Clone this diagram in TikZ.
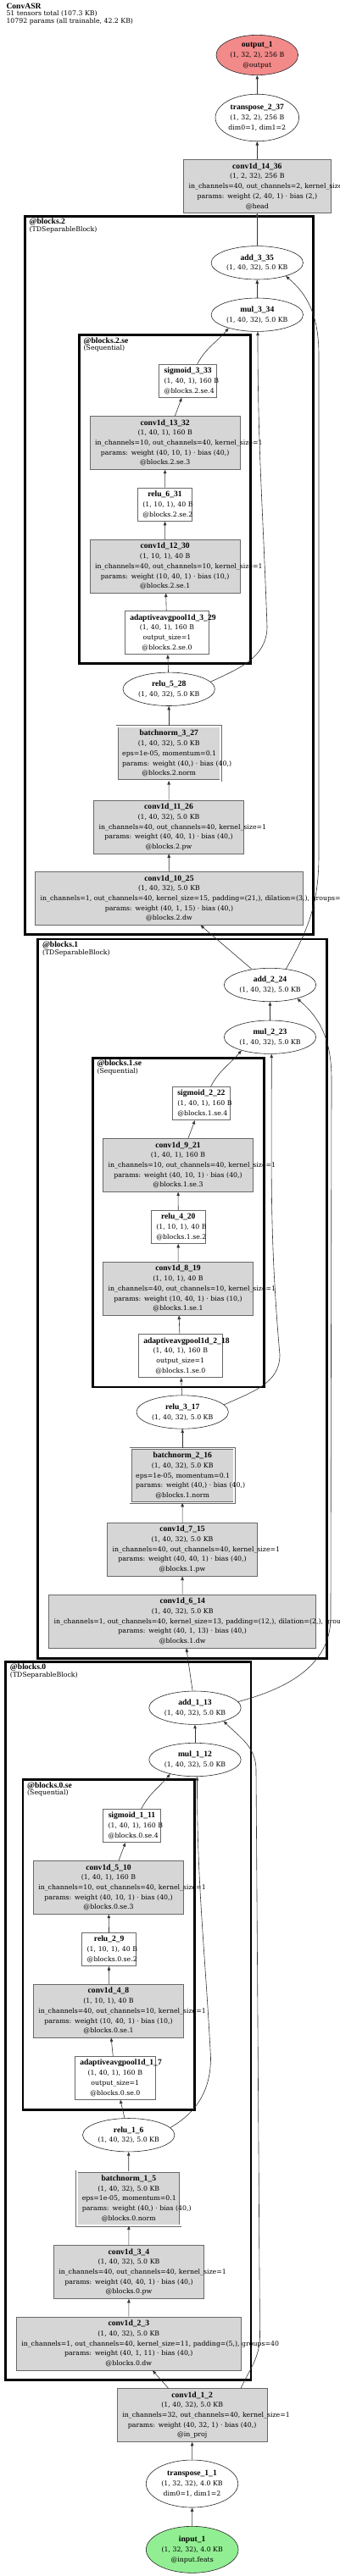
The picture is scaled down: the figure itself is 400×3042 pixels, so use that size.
\documentclass[tikz,border=0pt]{standalone}
\usepackage{fontspec}
\setmainfont{DejaVu Serif}
\newfontfamily\hdfont{Liberation Serif}
\usetikzlibrary{positioning,arrows.meta,shapes.geometric}
\definecolor{modgray}{RGB}{214,214,214}
\definecolor{framegray}{RGB}{105,105,105}
\definecolor{outred}{RGB}{242,138,138}
\definecolor{ingreen}{RGB}{146,238,146}
\newcommand{\nodefont}{\fontsize{7.8}{11.7}\selectfont}
\newcommand{\lblfont}{\fontsize{7.8}{8.7}\selectfont}
\newcommand{\hd}[1]{\mbox{\hdfont\bfseries\fontsize{9.6}{11.7}\selectfont #1}}
\newcommand{\rw}[1]{\mbox{#1}}
\tikzset{
  >={Triangle[length=4.5pt,width=3.5pt]},
  modbox/.style={draw=framegray, fill=modgray, line width=0.6pt, align=center,
    inner xsep=6pt, inner ysep=0pt, minimum height=63pt, text width=#1},
  modbox/.default=165pt,
  normbox/.style={modbox=110pt, minimum height=64pt, double=white, double distance=1.6pt},
  fnbox/.style={draw=framegray, fill=white, line width=0.6pt, align=center,
    inner xsep=6pt, inner ysep=0pt, minimum height=39.5pt, text width=#1},
  fnbox/.default=52pt,
  opnode/.style={ellipse, draw=black!85, fill=white, line width=0.6pt, align=center,
    inner sep=0pt, minimum width=108.4pt, minimum height=39.4pt},
  edge/.style={->, draw=black!80, line width=0.6pt},
  cluster/.style={draw=black, line width=2.8pt, inner sep=0pt, outer sep=0pt},
  clabel/.style={align=left, inner sep=0pt, font=\lblfont},
}

\begin{document}
\begin{tikzpicture}[x=1pt, y=1pt, font=\nodefont]
  \useasboundingbox (0,0) rectangle (400,-3042);
  \node[clabel, anchor=north west] (title) at (7.3,-3.5) {\hd{ConvASR}\\51 tensors total (107.3 KB)\\10792 params (all trainable, 42.2 KB)};

  % module frames
  \node[cluster, minimum width=339.7pt, minimum height=848.2pt] (blk2) at (199.35,-679.4) {};
  \node[cluster, minimum width=201.8pt, minimum height=388.1pt] (blk2se) at (194.4,-589.75) {};
  \node[cluster, minimum width=340.7pt, minimum height=849.3pt] (blk1) at (215.15,-1533.65) {};
  \node[cluster, minimum width=201.9pt, minimum height=388.7pt] (blk1se) at (210.25,-1443.65) {};
  \node[cluster, minimum width=289.2pt, minimum height=848.4pt] (blk0) at (151.4,-2386.5) {};
  \node[cluster, minimum width=202.2pt, minimum height=389.5pt] (blk0se) at (128.1,-2296.55) {};
  \node[clabel, below right=2.5pt and 5pt of blk2.north west] (blk2lbl) {\hd{@blocks.2}\\(TDSeparableBlock)};
  \node[clabel, below right=2.5pt and 5pt of blk2se.north west] (blk2selbl) {\hd{@blocks.2.se}\\(Sequential)};
  \node[clabel, below right=2.5pt and 5pt of blk1.north west] (blk1lbl) {\hd{@blocks.1}\\(TDSeparableBlock)};
  \node[clabel, below right=2.5pt and 5pt of blk1se.north west] (blk1selbl) {\hd{@blocks.1.se}\\(Sequential)};
  \node[clabel, below right=2.5pt and 5pt of blk0.north west] (blk0lbl) {\hd{@blocks.0}\\(TDSeparableBlock)};
  \node[clabel, below right=2.5pt and 5pt of blk0se.north west] (blk0selbl) {\hd{@blocks.0.se}\\(Sequential)};

  % head
  \node[opnode, fill=outred, minimum width=96.6pt, minimum height=47.3pt] (out) at (303.3,-65) {\hd{output\_1}\\(1, 32, 2), 256 B\\@output};
  \node[opnode, minimum width=98.6pt, minimum height=55.6pt] (tr2) at (303.3,-139) {\hd{transpose\_2\_37}\\(1, 32, 2), 256 B\\dim0=1, dim1=2};
  \node[modbox=161.3pt] (c14) at (303.3,-220) {\hd{conv1d\_14\_36}\\\rw{(1, 2, 32), 256 B}\\\rw{in\_channels=40, out\_channels=2, kernel\_size=1}\\\rw{params: weight (2, 40, 1) · bias (2,)}\\\rw{@head}};

  % blocks.2
  \node[opnode] (add3) at (303.3,-310.3) {\hd{add\_3\_35}\\(1, 40, 32), 5.0 KB};
  \node[opnode] (mul3) at (303.3,-371.7) {\hd{mul\_3\_34}\\(1, 40, 32), 5.0 KB};
  \node[fnbox=56pt] (sig3) at (221.7,-449.7) {\hd{sigmoid\_3\_33}\\\rw{(1, 40, 1), 160 B}\\\rw{@blocks.2.se.4}};
  \node[modbox=165.3pt] (c13) at (194.7,-522.9) {\hd{conv1d\_13\_32}\\\rw{(1, 40, 1), 160 B}\\\rw{in\_channels=10, out\_channels=40, kernel\_size=1}\\\rw{params: weight (40, 10, 1) · bias (40,)}\\\rw{@blocks.2.se.3}};
  \node[fnbox=52.4pt] (relu6) at (194.5,-595.7) {\hd{relu\_6\_31}\\\rw{(1, 10, 1), 40 B}\\\rw{@blocks.2.se.2}};
  \node[modbox=165.3pt] (c12) at (194.7,-668.7) {\hd{conv1d\_12\_30}\\\rw{(1, 10, 1), 40 B}\\\rw{in\_channels=40, out\_channels=10, kernel\_size=1}\\\rw{params: weight (10, 40, 1) · bias (10,)}\\\rw{@blocks.2.se.1}};
  \node[fnbox=87.4pt, minimum height=51.7pt] (pool3) at (197,-746.9) {\hd{adaptiveavgpool1d\_3\_29}\\\rw{(1, 40, 1), 160 B}\\\rw{output\_size=1}\\\rw{@blocks.2.se.0}};
  \node[opnode] (relu5) at (199.2,-813.8) {\hd{relu\_5\_28}\\(1, 40, 32), 5.0 KB};
  \node[normbox] (bn3) at (199.2,-889.7) {\hd{batchnorm\_3\_27}\\\rw{(1, 40, 32), 5.0 KB}\\\rw{eps=1e-05, momentum=0.1}\\\rw{params: weight (40,) · bias (40,)}\\\rw{@blocks.2.norm}};
  \node[modbox=164.6pt] (c11) at (199,-976.5) {\hd{conv1d\_11\_26}\\\rw{(1, 40, 32), 5.0 KB}\\\rw{in\_channels=40, out\_channels=40, kernel\_size=1}\\\rw{params: weight (40, 40, 1) · bias (40,)}\\\rw{@blocks.2.pw}};
  \node[modbox=303.6pt] (c10) at (199.5,-1060.8) {\hd{conv1d\_10\_25}\\\rw{(1, 40, 32), 5.0 KB}\\\rw{in\_channels=1, out\_channels=40, kernel\_size=15, padding=(21,), dilation=(3,), groups=40}\\\rw{params: weight (40, 1, 15) · bias (40,)}\\\rw{@blocks.2.dw}};

  % blocks.1
  \node[opnode] (add2) at (318.5,-1163) {\hd{add\_2\_24}\\(1, 40, 32), 5.0 KB};
  \node[opnode] (mul2) at (318.5,-1224.7) {\hd{mul\_2\_23}\\(1, 40, 32), 5.0 KB};
  \node[fnbox=56.4pt] (sig2) at (237.5,-1303) {\hd{sigmoid\_2\_22}\\\rw{(1, 40, 1), 160 B}\\\rw{@blocks.1.se.4}};
  \node[modbox=164.6pt] (c9) at (210,-1375.8) {\hd{conv1d\_9\_21}\\\rw{(1, 40, 1), 160 B}\\\rw{in\_channels=10, out\_channels=40, kernel\_size=1}\\\rw{params: weight (40, 10, 1) · bias (40,)}\\\rw{@blocks.1.se.3}};
  \node[fnbox=52pt] (relu4) at (210.3,-1448.8) {\hd{relu\_4\_20}\\\rw{(1, 10, 1), 40 B}\\\rw{@blocks.1.se.2}};
  \node[modbox=164.6pt] (c8) at (210,-1521.7) {\hd{conv1d\_8\_19}\\\rw{(1, 10, 1), 40 B}\\\rw{in\_channels=40, out\_channels=10, kernel\_size=1}\\\rw{params: weight (10, 40, 1) · bias (10,)}\\\rw{@blocks.1.se.1}};
  \node[fnbox=87pt, minimum height=51.7pt] (pool2) at (212.8,-1600.9) {\hd{adaptiveavgpool1d\_2\_18}\\\rw{(1, 40, 1), 160 B}\\\rw{output\_size=1}\\\rw{@blocks.1.se.0}};
  \node[opnode] (relu3) at (215.2,-1667.5) {\hd{relu\_3\_17}\\(1, 40, 32), 5.0 KB};
  \node[normbox] (bn2) at (215.2,-1742.5) {\hd{batchnorm\_2\_16}\\\rw{(1, 40, 32), 5.0 KB}\\\rw{eps=1e-05, momentum=0.1}\\\rw{params: weight (40,) · bias (40,)}\\\rw{@blocks.1.norm}};
  \node[modbox=164.6pt] (c7) at (215,-1829.7) {\hd{conv1d\_7\_15}\\\rw{(1, 40, 32), 5.0 KB}\\\rw{in\_channels=40, out\_channels=40, kernel\_size=1}\\\rw{params: weight (40, 40, 1) · bias (40,)}\\\rw{@blocks.1.pw}};
  \node[modbox=303pt] (c6) at (215.2,-1914.5) {\hd{conv1d\_6\_14}\\\rw{(1, 40, 32), 5.0 KB}\\\rw{in\_channels=1, out\_channels=40, kernel\_size=13, padding=(12,), dilation=(2,), groups=40}\\\rw{params: weight (40, 1, 13) · bias (40,)}\\\rw{@blocks.1.dw}};

  % blocks.0
  \node[opnode] (add1) at (230,-2016.7) {\hd{add\_1\_13}\\(1, 40, 32), 5.0 KB};
  \node[opnode] (mul1) at (230,-2078) {\hd{mul\_1\_12}\\(1, 40, 32), 5.0 KB};
  \node[fnbox=55.6pt] (sig1) at (155.5,-2156) {\hd{sigmoid\_1\_11}\\\rw{(1, 40, 1), 160 B}\\\rw{@blocks.0.se.4}};
  \node[modbox=165.4pt] (c5) at (128,-2228.9) {\hd{conv1d\_5\_10}\\\rw{(1, 40, 1), 160 B}\\\rw{in\_channels=10, out\_channels=40, kernel\_size=1}\\\rw{params: weight (40, 10, 1) · bias (40,)}\\\rw{@blocks.0.se.3}};
  \node[fnbox=52pt] (relu2) at (128.7,-2302) {\hd{relu\_2\_9}\\\rw{(1, 10, 1), 40 B}\\\rw{@blocks.0.se.2}};
  \node[modbox=165.4pt] (c4) at (128,-2374.7) {\hd{conv1d\_4\_8}\\\rw{(1, 10, 1), 40 B}\\\rw{in\_channels=40, out\_channels=10, kernel\_size=1}\\\rw{params: weight (10, 40, 1) · bias (10,)}\\\rw{@blocks.0.se.1}};
  \node[fnbox=83pt, minimum height=51pt] (pool1) at (135.8,-2453.8) {\hd{adaptiveavgpool1d\_1\_7}\\\rw{(1, 40, 1), 160 B}\\\rw{output\_size=1}\\\rw{@blocks.0.se.0}};
  \node[opnode] (relu1) at (151.7,-2521.2) {\hd{relu\_1\_6}\\(1, 40, 32), 5.0 KB};
  \node[normbox] (bn1) at (151.8,-2596.2) {\hd{batchnorm\_1\_5}\\\rw{(1, 40, 32), 5.0 KB}\\\rw{eps=1e-05, momentum=0.1}\\\rw{params: weight (40,) · bias (40,)}\\\rw{@blocks.0.norm}};
  \node[modbox=165.4pt] (c3) at (152,-2683) {\hd{conv1d\_3\_4}\\\rw{(1, 40, 32), 5.0 KB}\\\rw{in\_channels=40, out\_channels=40, kernel\_size=1}\\\rw{params: weight (40, 40, 1) · bias (40,)}\\\rw{@blocks.0.pw}};
  \node[modbox=253pt] (c2) at (151.8,-2767.5) {\hd{conv1d\_2\_3}\\\rw{(1, 40, 32), 5.0 KB}\\\rw{in\_channels=1, out\_channels=40, kernel\_size=11, padding=(5,), groups=40}\\\rw{params: weight (40, 1, 11) · bias (40,)}\\\rw{@blocks.0.dw}};

  % stem
  \node[modbox=164.7pt] (c1) at (226.7,-2852) {\hd{conv1d\_1\_2}\\\rw{(1, 40, 32), 5.0 KB}\\\rw{in\_channels=32, out\_channels=40, kernel\_size=1}\\\rw{params: weight (40, 32, 1) · bias (40,)}\\\rw{@in\_proj}};
  \node[opnode, minimum height=56pt] (tr1) at (226.5,-2933) {\hd{transpose\_1\_1}\\(1, 32, 32), 4.0 KB\\dim0=1, dim1=2};
  \node[opnode, fill=ingreen, minimum width=108.7pt, minimum height=55pt] (in) at (226.7,-3010.8) {\hd{input\_1}\\(1, 32, 32), 4.0 KB\\@input.feats};

  % edges
  \draw[edge] (tr2) -- (out);
  \draw[edge] (c14) -- (tr2);
  \draw[edge] (add3) -- (c14);
  \draw[edge] (mul3) -- (add3);
  \draw[edge] (sig3.61) to[out=62,in=-130] (mul3.-155);
  \draw[edge] (relu5.10) to[out=25,in=-90] (315,-740) to[out=92,in=-90] (mul3.-88);
  \draw[edge] (c13) -- (sig3);
  \draw[edge] (relu6) -- (c13);
  \draw[edge] (c12) -- (relu6);
  \draw[edge] (pool3) -- (c12);
  \draw[edge] (relu5) -- (pool3);
  \draw[edge] (bn3) -- (relu5);
  \draw[edge] (c11) -- (bn3);
  \draw[edge] (c10) -- (c11);
  \draw[edge] (add2) -- (c10);
  \draw[edge] (add2.45) to[out=60,in=-90] (376,-1010) -- (376,-420) to[out=90,in=-40] (add3.-25);

  \draw[edge] (mul2) -- (add2);
  \draw[edge] (sig2.61) to[out=62,in=-130] (mul2.-155);
  \draw[edge] (relu3.10) to[out=25,in=-90] (330,-1600) to[out=95,in=-90] (mul2.-85);
  \draw[edge] (c9) -- (sig2);
  \draw[edge] (relu4) -- (c9);
  \draw[edge] (c8) -- (relu4);
  \draw[edge] (pool2) -- (c8);
  \draw[edge] (relu3) -- (pool2);
  \draw[edge] (bn2) -- (relu3);
  \draw[edge] (c7) -- (bn2);
  \draw[edge] (c6) -- (c7);
  \draw[edge] (add1) -- (c6);
  \draw[edge] (add1.8) to[out=15,in=-90] (390,-1910) -- (391,-1275) to[out=90,in=-40] (add2.-27);

  \draw[edge] (mul1) -- (add1);
  \draw[edge] (sig1.61) to[out=62,in=-130] (mul1.-150);
  \draw[edge] (relu1.10) to[out=30,in=-90] (248.5,-2430) to[out=93,in=-90] (mul1.-83);
  \draw[edge] (c5) -- (sig1);
  \draw[edge] (relu2) -- (c5);
  \draw[edge] (c4) -- (relu2);
  \draw[edge] (pool1) -- (c4);
  \draw[edge] (relu1) -- (pool1);
  \draw[edge] (bn1) -- (relu1);
  \draw[edge] (c3) -- (bn1);
  \draw[edge] (c2) -- (c3);
  \draw[edge] (c1) -- (c2);
  \draw[edge] (c1.29) to[out=65,in=-92] (306.5,-2760) -- (302,-2090) to[out=90,in=-45] (add1.-25);
  \draw[edge] (tr1) -- (c1);
  \draw[edge] (in) -- (tr1);
\end{tikzpicture}
\end{document}
